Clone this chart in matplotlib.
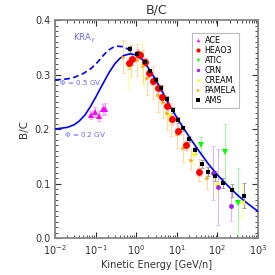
import matplotlib
matplotlib.use("Agg")
import matplotlib.pyplot as plt
import numpy as np
from matplotlib.ticker import LogLocator, MultipleLocator, NullFormatter, FormatStrFormatter
from matplotlib.lines import Line2D

plt.rcParams['font.family'] = ['DejaVu Sans']

# Model curves (KRA_gamma)
model_E = [0.01, 0.02, 0.03, 0.04, 0.055, 0.073, 0.1, 0.13, 0.17, 0.22, 0.3, 0.4, 0.5, 0.7, 1.0,
           1.4, 2.0, 3.0, 4.6, 7.0, 12, 21, 35, 60, 100, 170, 300, 500, 1000]
model_phi02 = [0.200, 0.203, 0.208, 0.215, 0.226, 0.240, 0.258, 0.274, 0.290, 0.305, 0.320, 0.330,
               0.335, 0.338, 0.336, 0.328, 0.312, 0.291, 0.266, 0.240, 0.212, 0.184, 0.160, 0.136,
               0.116, 0.098, 0.080, 0.066, 0.049]
model_E05 = [0.01, 0.02, 0.03, 0.05, 0.08, 0.11, 0.15, 0.2, 0.27, 0.35, 0.5, 0.65, 0.85]
model_phi05 = [0.290, 0.292, 0.295, 0.302, 0.312, 0.322, 0.334, 0.344, 0.350, 0.352, 0.351, 0.346, 0.339]

# Data
ace_E = [0.075, 0.095, 0.12, 0.15, 0.17]
ace_v = [0.226, 0.231, 0.224, 0.236, 0.237]
ace_err = [0.008, 0.009, 0.009, 0.010, 0.010]

heao_E = [0.67, 0.80, 1.09, 1.24, 1.65, 2.1, 2.6, 3.5, 4.4, 5.6, 7.5, 10.9, 16.5, 35]
heao_v = [0.321, 0.328, 0.338, 0.336, 0.323, 0.303, 0.289, 0.275, 0.258, 0.242, 0.218, 0.197, 0.170, 0.121]
heao_err = [0.01, 0.01, 0.008, 0.008, 0.008, 0.008, 0.008, 0.008, 0.008, 0.008, 0.008, 0.008, 0.008, 0.008]

atic_E = [39, 155, 325]
atic_v = [0.171, 0.157, 0.064]
atic_err = [0.014, 0.053, 0.065]

crn_E = [78, 105, 215]
crn_v = [0.119, 0.093, 0.059]
crn_err = [0.05, 0.07, 0.028]

cream_E = [0.62, 1.4, 6.2, 25, 95, 400]
cream_v = [0.315, 0.320, 0.226, 0.155, 0.100, 0.067]
cream_err = [0.04, 0.04, 0.02, 0.02, 0.02, 0.03]

pamela_E = [0.48, 0.75, 1.06, 1.5, 1.9, 2.6, 3.5, 4.5, 5.6, 7.2, 10, 14, 22, 35, 56]
pamela_v = [0.333, 0.325, 0.327, 0.315, 0.293, 0.285, 0.262, 0.250, 0.229, 0.217, 0.190, 0.165, 0.144, 0.125, 0.110]
pamela_err = [0.03, 0.03, 0.03, 0.03, 0.03, 0.03, 0.03, 0.03, 0.03, 0.03, 0.025, 0.025, 0.02, 0.02, 0.02]

ams_E = [0.71, 1.06, 1.65, 2.2, 3.1, 4.2, 5.9, 8.0, 10.9, 14.4, 20, 28, 41, 60, 88, 140, 230, 460]
ams_v = [0.346, 0.338, 0.323, 0.306, 0.290, 0.275, 0.256, 0.235, 0.217, 0.201, 0.182, 0.161, 0.136, 0.122, 0.114, 0.101, 0.088, 0.078]
ams_err = [0.006, 0.005, 0.005, 0.005, 0.005, 0.005, 0.005, 0.005, 0.005, 0.005, 0.005, 0.006, 0.007, 0.008, 0.009, 0.010, 0.012, 0.023]

fig = plt.figure(figsize=(2.75, 2.75), dpi=100)
ax = fig.add_axes([0.2, 0.1345, 0.738, 0.7925])

def series(E, v, err, color, ecolor, marker, ms):
    ax.errorbar(E, v, yerr=err, fmt='none', ecolor=ecolor, elinewidth=0.8, capsize=1.5, capthick=0.6, zorder=2)
    ax.plot(E, v, linestyle='none', marker=marker, color=color, markersize=ms, markeredgewidth=0, zorder=4)

series(pamela_E, pamela_v, pamela_err, '#ffa500', '#ffd9a0', '>', 3.0)
series(cream_E, cream_v, cream_err, '#ffff00', '#ffffa0', '<', 3.5)
series(crn_E, crn_v, crn_err, '#a020f0', '#ddb8f5', 'o', 3.5)
series(atic_E, atic_v, atic_err, '#00ff00', '#a8f5a8', 'v', 4.0)
series(heao_E, heao_v, heao_err, '#ff0000', '#ffb0b0', 'o', 5.0)
series(ace_E, ace_v, ace_err, '#ff00ff', '#ff99ff', '^', 4.0)
series(ams_E, ams_v, ams_err, '#000000', '#999999', 's', 3.2)

ax.plot(model_E, model_phi02, color='#0000ff', lw=1.2, zorder=3)
ax.plot(model_E05, model_phi05, color='#0000ff', lw=1.2, ls=(0, (3.5, 2)), zorder=3)

handles = [
    Line2D([], [], ls='none', marker='^', color='#ff00ff', ms=2.5, mew=0),
    Line2D([], [], ls='none', marker='o', color='#ff0000', ms=3.0, mew=0),
    Line2D([], [], ls='none', marker='v', color='#00ff00', ms=2.5, mew=0),
    Line2D([], [], ls='none', marker='o', color='#a020f0', ms=2.5, mew=0),
    Line2D([], [], ls='none', marker='<', color='#ffff00', ms=2.5, mew=0),
    Line2D([], [], ls='none', marker='>', color='#ffa500', ms=2.5, mew=0),
    Line2D([], [], ls='none', marker='s', color='#000000', ms=2.5, mew=0),
]
labels = ['ACE', 'HEAO3', 'ATIC', 'CRN', 'CREAM', 'PAMELA', 'AMS']
leg = ax.legend(handles, labels, loc='upper left', bbox_to_anchor=(0.675, 0.94), fontsize=5.8,
                frameon=True, fancybox=False, edgecolor='#aaaaaa', handlelength=0.8,
                handletextpad=0.4, labelspacing=0.12, borderpad=0.35, borderaxespad=0)
leg.get_frame().set_linewidth(0.8)

ax.set_xscale('log')
ax.set_xlim(1e-2, 1e3)
ax.set_ylim(0.0, 0.4)
ax.yaxis.set_major_locator(MultipleLocator(0.1))
ax.yaxis.set_minor_locator(MultipleLocator(0.01))
ax.yaxis.set_major_formatter(FormatStrFormatter('%.1f'))
ax.xaxis.set_major_locator(LogLocator(base=10, numticks=10))
ax.xaxis.set_minor_locator(LogLocator(base=10, subs=np.arange(2, 10), numticks=20))
ax.xaxis.set_minor_formatter(NullFormatter())

ax.tick_params(which='both', direction='in', top=True, right=True, labelsize=7, colors='#333333', labelcolor='#333333')
ax.tick_params(which='major', length=4, width=0.8)
ax.tick_params(which='minor', length=2, width=0.6)
ax.tick_params(axis='x', pad=4)
for s in ax.spines.values():
    s.set_color('#888888')
    s.set_linewidth(1.3)

ax.set_title('B/C', fontsize=9, color='#333333', pad=5)
ax.set_xlabel('Kinetic Energy [GeV/n]', fontsize=7, color='#333333', labelpad=2)
ax.set_ylabel('B/C', fontsize=7.5, color='#333333', labelpad=4)

txtc = '#6a6af0'
ax.text(0.09, 0.905, r'KRA$_\gamma$', transform=ax.transAxes, fontsize=6, color=txtc)
ax.text(0.02, 0.70, r'$\Phi$ = 0.5 GV', transform=ax.transAxes, fontsize=5.2, color=txtc)
ax.text(0.045, 0.465, r'$\Phi$ = 0.2 GV', transform=ax.transAxes, fontsize=5.2, color=txtc)

fig.savefig('out.png', dpi=100)
